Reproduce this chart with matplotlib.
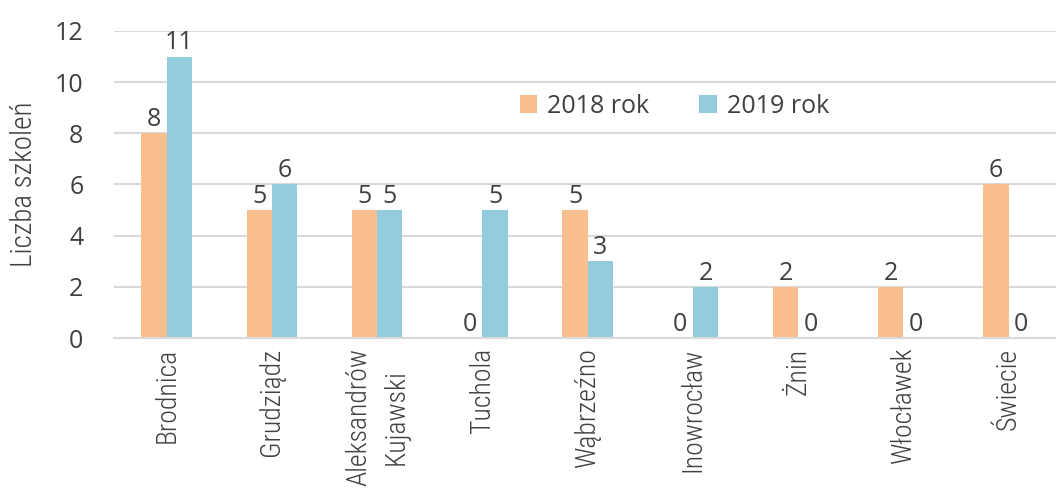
import numpy as np
import matplotlib.pyplot as plt

# Liczba szkoleń w miastach, 2018 vs 2019
miasta = ['Brodnica', 'Grudziądz', 'Aleksandrów\nKujawski', 'Tuchola', 'Wąbrzeźno',
          'Inowrocław', 'Żnin', 'Włocławek', 'Świecie']
rok_2018 = [8, 5, 5, 0, 5, 0, 2, 2, 6]
rok_2019 = [11, 6, 5, 5, 3, 2, 0, 0, 0]

c18 = '#F9BF8F'
c19 = '#93CDDD'
txt = '#404040'
narrow = ['Roboto Condensed', 'DejaVu Sans']
plt.rcParams['font.family'] = ['Open Sans', 'DejaVu Sans']

fig = plt.figure(figsize=(10.56, 4.91), dpi=100)
ax = fig.add_axes([0.108, 0.3116, 0.892, 0.6253])

x = np.arange(len(miasta))
w = 0.24
b1 = ax.bar(x - w / 2, rok_2018, w, color=c18, label='2018 rok')
b2 = ax.bar(x + w / 2, rok_2019, w, color=c19, label='2019 rok')

for bars in (b1, b2):
    for r in bars:
        ax.text(r.get_x() + r.get_width() / 2, r.get_height() + 0.05, f'{int(r.get_height())}',
                ha='center', va='bottom', fontsize=18, color=txt)

ax.set_ylim(0, 12)
ax.set_yticks(range(0, 13, 2))
ax.set_xlim(-0.5, 8.45)
ax.yaxis.grid(True, color='#D9D9D9', linewidth=1.5)
ax.set_axisbelow(True)
for s in ['top', 'right', 'left']:
    ax.spines[s].set_visible(False)
ax.spines['bottom'].set_color('#D9D9D9')
ax.spines['bottom'].set_linewidth(1.5)
ax.tick_params(axis='both', length=0, colors=txt, labelsize=18)
ax.tick_params(axis='y', pad=22)
ax.tick_params(axis='x', pad=7)

ax.set_xticks(x)
ax.set_xticklabels(miasta, rotation=90, ha='center', va='top', multialignment='center',
                   family=narrow, fontweight=300, fontsize=20, linespacing=1.5)
ax.set_ylabel('Liczba szkoleń', family=narrow, fontweight=300, fontsize=21, color=txt,
              labelpad=12)

ax.legend(loc='center', bbox_to_anchor=(0.595, 0.755), ncol=2, frameon=False, fontsize=18,
          handlelength=0.7, handleheight=0.7, columnspacing=2.0, handletextpad=0.4,
          labelcolor=txt)

fig.savefig('out.png', dpi=100)
